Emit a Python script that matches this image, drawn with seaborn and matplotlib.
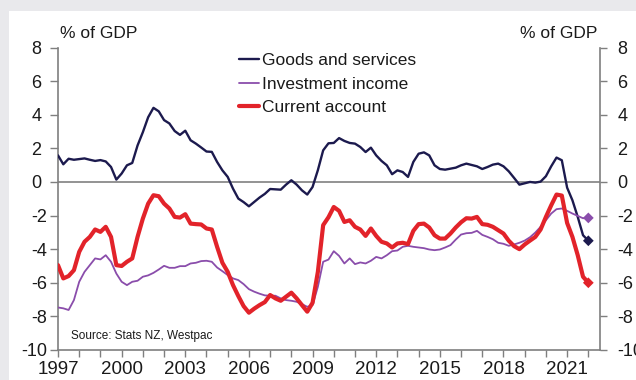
import numpy as np
import pandas as pd
import matplotlib
matplotlib.use("Agg")
import matplotlib.pyplot as plt
import seaborn as sns
from matplotlib.patches import Rectangle
from matplotlib.ticker import FixedLocator, MultipleLocator, FuncFormatter

sns.set_theme(style="white")
plt.rcParams["font.family"] = ["Liberation Sans", "DejaVu Sans"]

# Quarterly balances, % of GDP, from 1997 Q1
start_year = 1997

goods = [
    1.58, 1.05, 1.38, 1.32, 1.36, 1.40, 1.32, 1.25, 1.30, 1.22,
    0.89, 0.14, 0.50, 0.99, 1.13, 2.17, 2.96, 3.85, 4.41, 4.20,
    3.68, 3.48, 3.03, 2.80, 3.05, 2.48, 2.28, 2.05, 1.81, 1.79,
    1.19, 0.69, 0.30, -0.40, -0.99, -1.20, -1.45, -1.19, -0.93, -0.71,
    -0.42, -0.44, -0.46, -0.16, 0.10, -0.16, -0.50, -0.75, -0.30, 0.70,
    1.88, 2.30, 2.32, 2.61, 2.44, 2.32, 2.28, 2.08, 1.78, 2.04,
    1.58, 1.25, 0.99, 0.46, 0.69, 0.59, 0.30, 1.19, 1.68, 1.76,
    1.58, 0.99, 0.77, 0.73, 0.79, 0.85, 0.99, 1.09, 1.01, 0.93,
    0.77, 0.89, 1.03, 1.09, 0.93, 0.63, 0.24, -0.16, -0.08, 0.00,
    -0.04, 0.02, 0.34, 0.93, 1.45, 1.29, -0.34, -1.09, -2.08, -3.17,
    -3.50,
]

investment = [
    -7.47, -7.52, -7.62, -7.03, -5.94, -5.35, -4.95, -4.55, -4.61, -4.36,
    -4.75, -5.45, -5.94, -6.14, -5.94, -5.88, -5.64, -5.56, -5.41, -5.21,
    -4.99, -5.11, -5.11, -5.01, -5.01, -4.85, -4.81, -4.71, -4.69, -4.75,
    -5.09, -5.31, -5.54, -5.74, -5.84, -6.08, -6.38, -6.53, -6.65, -6.75,
    -6.77, -6.77, -6.93, -7.03, -7.07, -7.13, -7.27, -7.43, -7.33, -6.24,
    -4.75, -4.62, -4.12, -4.40, -4.85, -4.55, -4.89, -4.79, -4.85, -4.69,
    -4.46, -4.55, -4.36, -4.12, -4.08, -3.86, -3.80, -3.86, -3.90, -3.94,
    -4.02, -4.06, -4.02, -3.90, -3.76, -3.43, -3.13, -3.05, -3.03, -2.91,
    -3.15, -3.27, -3.41, -3.62, -3.68, -3.80, -3.72, -3.62, -3.49, -3.29,
    -3.01, -2.67, -2.28, -1.88, -1.62, -1.58, -1.72, -1.88, -2.02, -2.16,
    -2.14,
]

current = [
    -4.95, -5.74, -5.60, -5.25, -4.16, -3.56, -3.27, -2.83, -2.97, -2.67,
    -3.27, -4.95, -5.00, -4.75, -4.55, -3.27, -2.18, -1.29, -0.79, -0.85,
    -1.29, -1.58, -2.08, -2.12, -1.92, -2.48, -2.51, -2.53, -2.77, -2.83,
    -3.86, -4.81, -5.35, -6.14, -6.79, -7.39, -7.78, -7.54, -7.33, -7.15,
    -6.73, -6.93, -7.07, -6.83, -6.59, -6.93, -7.33, -7.72, -7.19, -5.35,
    -2.57, -2.10, -1.49, -1.72, -2.38, -2.28, -2.67, -2.83, -3.21, -2.77,
    -3.21, -3.56, -3.66, -3.90, -3.66, -3.62, -3.70, -2.91, -2.51, -2.48,
    -2.71, -3.17, -3.37, -3.37, -3.07, -2.71, -2.40, -2.16, -2.18, -2.08,
    -2.51, -2.55, -2.67, -2.87, -3.07, -3.50, -3.82, -4.00, -3.72, -3.49,
    -3.27, -2.83, -2.08, -1.39, -0.75, -0.81, -2.44, -3.27, -4.36, -5.64,
    -6.00,
]

series_names = ["Goods and services", "Investment income", "Current account"]
series_colors = ["#1c1a4e", "#8a4dab", "#e2232a"]
series_widths = [1.7, 1.3, 3.0]

year_ticks = [1997, 2000, 2003, 2006, 2009, 2012, 2015, 2018, 2021]
y_ticks = [-10, -8, -6, -4, -2, 0, 2, 4, 6, 8]
unit_label = "% of GDP"
source_note = "Source: Stats NZ, Westpac"

dates = start_year + np.arange(len(goods)) / 4
df = pd.DataFrame({
    "date": np.tile(dates, 3),
    "value": goods + investment + current,
    "series": np.repeat(series_names, len(goods)),
})

W, H = 636, 380
fig = plt.figure(figsize=(W / 100, H / 100), dpi=100, facecolor="#e9e9ec")
# white card behind the chart, leaving a grey margin on the left and top
fig.patches.append(Rectangle((9 / W, 0), 1, 1 - 11 / H, transform=fig.transFigure,
                             facecolor="white", edgecolor="none", zorder=-5))
ax = fig.add_axes([58 / W, 30 / H, 542 / W, 302.5 / H])
ax.set_facecolor("white")

ax.axhline(0, color="#8a8a8a", lw=1.3, zorder=1)

for name, color, lw in zip(series_names, series_colors, series_widths):
    sns.lineplot(data=df[df["series"] == name], x="date", y="value",
                 color=color, linewidth=lw, label=name, ax=ax, zorder=3)

last = df.groupby("series", sort=False).tail(1)
sns.scatterplot(data=last, x="date", y="value", hue="series",
                palette=dict(zip(series_names, series_colors)),
                marker="D", s=30, edgecolor="none", legend=False, ax=ax, zorder=4)

ax.set_xlim(1997, 2022.55)
ax.set_ylim(-10, 8)
ax.xaxis.set_major_locator(FixedLocator(year_ticks))
ax.xaxis.set_minor_locator(MultipleLocator(1))
ax.set_yticks(y_ticks)
# non-negative labels carry a trailing space, as in "0 ;-0" number formats
ax.yaxis.set_major_formatter(FuncFormatter(lambda v, _: f"{v:.0f}" if v < 0 else f"{v:.0f} "))
ax.set_xlabel("")
ax.set_ylabel("")

# right-hand scale mirrors the left one
ax_r = ax.twinx()
ax_r.set_ylim(ax.get_ylim())
ax_r.set_yticks(y_ticks)
ax_r.yaxis.set_major_formatter(FuncFormatter(lambda v, _: f"{v:.0f}"))
ax_r.grid(False)

spine_color = "#7f7f7f"
for a in (ax, ax_r):
    for side in ("top", "left", "right", "bottom"):
        a.spines[side].set_visible(False)
ax.spines["left"].set_visible(True)
ax.spines["bottom"].set_visible(True)
ax_r.spines["right"].set_visible(True)
for sp in (ax.spines["left"], ax.spines["bottom"], ax_r.spines["right"]):
    sp.set_color(spine_color)
    sp.set_linewidth(1.2)

text_color = "#1a1a1a"
ax.tick_params(axis="x", which="both", direction="out", length=5, width=1,
               color=spine_color, bottom=True, labelsize=13.5, pad=3,
               labelcolor=text_color)
ax.tick_params(axis="y", direction="out", length=6, width=1, color=spine_color,
               left=True, right=False, labelleft=True, labelright=False,
               labelsize=13, pad=2, labelcolor=text_color)
ax_r.tick_params(axis="y", direction="out", length=5, width=1, color=spine_color,
                 right=True, labelright=True, labelsize=13, pad=7.5,
                 labelcolor=text_color)

ax.legend(loc="upper left", bbox_to_anchor=(0.3345, 0.983), frameon=False,
          fontsize=12.5, handlelength=1.15, handletextpad=0.15,
          labelspacing=0.5, borderaxespad=0, borderpad=0,
          labelcolor=text_color)

ax.text(0.0234, 0.047, source_note, transform=ax.transAxes, fontsize=8.5,
        va="center", ha="left", color=text_color)
fig.text(60 / W, 1 - 33 / H, unit_label, fontsize=12.5, va="center",
         ha="left", color=text_color)
fig.text(597 / W, 1 - 33 / H, unit_label, fontsize=12.5, va="center",
         ha="right", color=text_color)

fig.savefig("out.png", dpi=100, facecolor=fig.get_facecolor())
